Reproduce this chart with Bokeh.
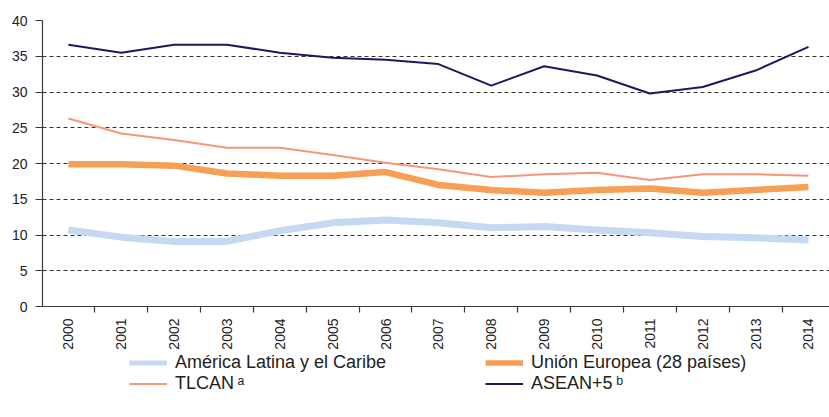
import math
from bokeh.plotting import figure
from bokeh.layouts import column
from bokeh.models import Range1d, FixedTicker, Legend, LegendItem
from bokeh.embed import file_html
from bokeh.resources import INLINE

years = [2000, 2001, 2002, 2003, 2004, 2005, 2006, 2007, 2008, 2009, 2010, 2011, 2012, 2013, 2014]
america_latina = [10.7, 9.7, 9.1, 9.1, 10.6, 11.7, 12.1, 11.7, 11.0, 11.2, 10.7, 10.3, 9.8, 9.6, 9.3]
union_europea = [19.9, 19.9, 19.7, 18.6, 18.3, 18.3, 18.8, 17.0, 16.3, 15.9, 16.3, 16.5, 15.9, 16.3, 16.7]
tlcan = [26.3, 24.2, 23.3, 22.2, 22.2, 21.2, 20.1, 19.2, 18.1, 18.5, 18.7, 17.7, 18.5, 18.5, 18.3]
asean5 = [36.6, 35.5, 36.6, 36.6, 35.5, 34.8, 34.5, 33.9, 30.9, 33.6, 32.3, 29.8, 30.7, 33.0, 36.3]
y_ticks = [0, 5, 10, 15, 20, 25, 30, 35, 40]

labels = ["América Latina y el Caribe", "Unión Europea (28 países)", "TLCAN\u2009ᵃ", "ASEAN+5\u2009ᵇ"]
colors = ["#c5d9f0", "#f79f55", "#f7967a", "#1b1a5f"]
widths = [7, 6.5, 2, 2]
key_widths = [5, 5.5, 2, 2]

FONT = "Liberation Sans"
AXIS_COLOR = "#3a3a3a"

MAIN_H = 352
LEG_H = 417 - MAIN_H

p = figure(width=829, height=MAIN_H, output_backend="svg", toolbar_location=None,
           x_range=Range1d(years[0] - 0.49, years[0] - 0.49 + 787 / 52.86),
           y_range=Range1d(0, 40),
           min_border_left=42, min_border_right=0, min_border_top=20,
           min_border_bottom=MAIN_H - 307)
p.outline_line_color = None
p.background_fill_color = "white"
p.border_fill_color = "white"

series = [america_latina, union_europea, tlcan, asean5]
for vals, c, w in zip(series, colors, widths):
    p.line(years, vals, line_color=c, line_width=w, line_join="round")

# x axis
bounds = [y - 0.5 for y in years] + [years[-1] + 0.5]
p.xaxis.ticker = FixedTicker(ticks=years, minor_ticks=bounds)
p.xaxis.major_tick_line_color = None
p.xaxis.major_tick_out = 6
p.xaxis.major_tick_in = 0
p.xaxis.minor_tick_line_color = AXIS_COLOR
p.xaxis.minor_tick_out = 6
p.xaxis.minor_tick_in = 0
p.xaxis.minor_tick_line_width = 1.2
p.xaxis.major_label_orientation = math.pi / 2
p.xaxis.major_label_standoff = 6
p.xaxis.major_label_text_font = FONT
p.xaxis.major_label_text_font_size = "14px"
p.xaxis.major_label_text_color = "#222222"
p.xaxis.axis_line_color = AXIS_COLOR
p.xaxis.axis_line_width = 1.2
p.xgrid.grid_line_color = None

# y axis
p.yaxis.ticker = FixedTicker(ticks=y_ticks, minor_ticks=[])
p.yaxis.major_tick_out = 7
p.yaxis.major_tick_in = 0
p.yaxis.major_tick_line_color = AXIS_COLOR
p.yaxis.major_tick_line_width = 1.2
p.yaxis.minor_tick_line_color = None
p.yaxis.major_label_standoff = 8
p.yaxis.major_label_text_font = FONT
p.yaxis.major_label_text_font_size = "14px"
p.yaxis.major_label_text_color = "#222222"
p.yaxis.axis_line_color = AXIS_COLOR
p.yaxis.axis_line_width = 1.2

p.ygrid.ticker = FixedTicker(ticks=y_ticks[1:])
p.ygrid.grid_line_color = "#333333"
p.ygrid.grid_line_dash = "4 3"
p.ygrid.grid_line_width = 1

# legend panel: same series drawn outside its visible range, used only as legend keys
lf = figure(width=829, height=LEG_H, output_backend="svg", toolbar_location=None,
            x_range=Range1d(0, 829), y_range=Range1d(0, LEG_H),
            x_axis_location=None, y_axis_location=None, min_border=0)
lf.outline_line_color = None
lf.grid.visible = False
lrs = [lf.line(years, vals, line_color=c, line_width=w)
       for vals, c, w in zip(series, colors, key_widths)]

ROW_H = 21
def make_legend(items, loc):
    return Legend(items=items, location=loc, orientation="vertical",
                  padding=0, margin=0, spacing=0, border_line_color=None,
                  background_fill_alpha=0, label_text_font=FONT,
                  label_text_font_size="18px", label_text_color="#222222",
                  glyph_width=38, glyph_height=ROW_H, label_height=ROW_H,
                  label_standoff=8)

vy = LEG_H - 2 * ROW_H
leg1 = make_legend([LegendItem(label=labels[0], renderers=[lrs[0]]),
                    LegendItem(label=labels[2], renderers=[lrs[2]])], (87, vy))
leg2 = make_legend([LegendItem(label=labels[1], renderers=[lrs[1]]),
                    LegendItem(label=labels[3], renderers=[lrs[3]])], (443, vy))
lf.add_layout(leg1, "center")
lf.add_layout(leg2, "center")

layout = column(p, lf, spacing=0)
open("out.html", "w").write(file_html(layout, INLINE))
